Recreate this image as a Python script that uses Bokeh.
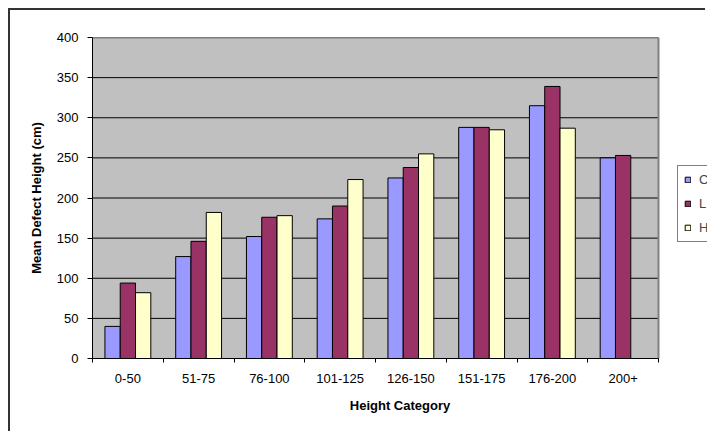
from bokeh.plotting import figure
from bokeh.models import Range1d, FixedTicker, Legend, LegendItem, ColumnDataSource
from bokeh.embed import file_html
from bokeh.resources import INLINE

categories = ["0-50", "51-75", "76-100", "101-125", "126-150", "151-175", "176-200", "200+"]
series_names = ["C", "L", "H"]
c_vals = [40, 127, 152, 174, 225, 288, 315, 250]
l_vals = [94, 146, 176, 190, 238, 288, 339, 253]
h_vals = [82, 182, 178, 223, 255, 285, 287, None]
y_ticks = [0, 50, 100, 150, 200, 250, 300, 350, 400]
colors = ["#9999FF", "#993366", "#FFFFCC"]

FONT = "Liberation Sans"
n = len(categories)
y_max = y_ticks[-1]

# plot area spans categories 0..n; the extra room on the right holds the (cut-off) legend
x_extra = n * 49.0 / 566.0

p = figure(width=697, height=423, output_backend="svg", toolbar_location=None,
           x_range=Range1d(0, n + x_extra), y_range=Range1d(0, y_max),
           min_border_left=82, min_border_top=27, min_border_right=0, min_border_bottom=75)
p.styles = {"margin-left": "8px", "margin-top": "8px",
            "border-top": "2px solid #333333", "border-left": "2px solid #333333"}
p.background_fill_color = "white"
p.border_fill_color = "white"
p.outline_line_color = None

# gray plot area
p.quad(left=[0], right=[n], bottom=[0], top=[y_max], fill_color="#C0C0C0", line_color=None)
# horizontal gridlines
p.segment(x0=[0] * len(y_ticks), x1=[n] * len(y_ticks), y0=y_ticks, y1=y_ticks,
          line_color="black", line_width=1)
# gray plot-area border (top and right)
p.segment(x0=[0, n], x1=[n, n], y0=[y_max, 0], y1=[y_max, y_max],
          line_color="#808080", line_width=2)

bar_w = 0.216
offsets = [-bar_w, 0.0, bar_w]
renderers = []
for vals, off, col in zip([c_vals, l_vals, h_vals], offsets, colors):
    xs = [i + 0.5 + off for i, v in enumerate(vals) if v is not None]
    tops = [v for v in vals if v is not None]
    src = ColumnDataSource(dict(x=xs, top=tops))
    r = p.vbar(x="x", top="top", width=bar_w, bottom=0, source=src,
               fill_color=col, line_color="black", line_width=1)
    renderers.append(r)

p.xgrid.visible = False
p.ygrid.visible = False

# x axis
p.xaxis.bounds = (0, n)
p.xaxis.ticker = FixedTicker(ticks=[i + 0.5 for i in range(n)],
                             minor_ticks=list(range(n + 1)))
p.xaxis.major_label_overrides = {i + 0.5: c for i, c in enumerate(categories)}
p.xaxis.major_tick_line_color = None
p.xaxis.major_tick_out = 4
p.xaxis.major_tick_in = 0
p.xaxis.minor_tick_out = 4
p.xaxis.minor_tick_in = 0
p.xaxis.minor_tick_line_color = "black"
p.xaxis.axis_line_color = "black"
p.xaxis.major_label_standoff = 11
p.xaxis.major_label_text_font = FONT
p.xaxis.major_label_text_font_size = "13px"
p.xaxis.major_label_text_color = "black"
p.xaxis.axis_label = "Height Category"
p.xaxis.axis_label_text_font = FONT
p.xaxis.axis_label_text_font_size = "13px"
p.xaxis.axis_label_text_font_style = "bold"
p.xaxis.axis_label_text_color = "black"
p.xaxis.axis_label_standoff = 12

# y axis
p.yaxis.ticker = FixedTicker(ticks=y_ticks)
p.yaxis.minor_tick_line_color = None
p.yaxis.major_tick_out = 5
p.yaxis.major_tick_in = 0
p.yaxis.major_tick_line_color = "black"
p.yaxis.axis_line_color = "black"
p.yaxis.major_label_standoff = 9
p.yaxis.major_label_text_font = FONT
p.yaxis.major_label_text_font_size = "13px"
p.yaxis.major_label_text_color = "black"
p.yaxis.axis_label = "Mean Defect Height (cm)"
p.yaxis.axis_label_text_font = FONT
p.yaxis.axis_label_text_font_size = "13px"
p.yaxis.axis_label_text_font_style = "bold"
p.yaxis.axis_label_text_color = "black"
p.yaxis.axis_label_standoff = 10

legend = Legend(items=[LegendItem(label=s, renderers=[r]) for s, r in zip(series_names, renderers)],
                location=(585, 116), orientation="vertical")
legend.glyph_width = 7
legend.glyph_height = 7
legend.label_height = 15
legend.spacing = 9
legend.padding = 6
legend.margin = 0
legend.label_standoff = 8
legend.label_text_font = FONT
legend.label_text_font_size = "13px"
legend.border_line_color = "black"
legend.border_line_width = 1
legend.background_fill_color = "white"
legend.background_fill_alpha = 1
p.add_layout(legend, "center")

open("out.html", "w").write(file_html(p, INLINE))
